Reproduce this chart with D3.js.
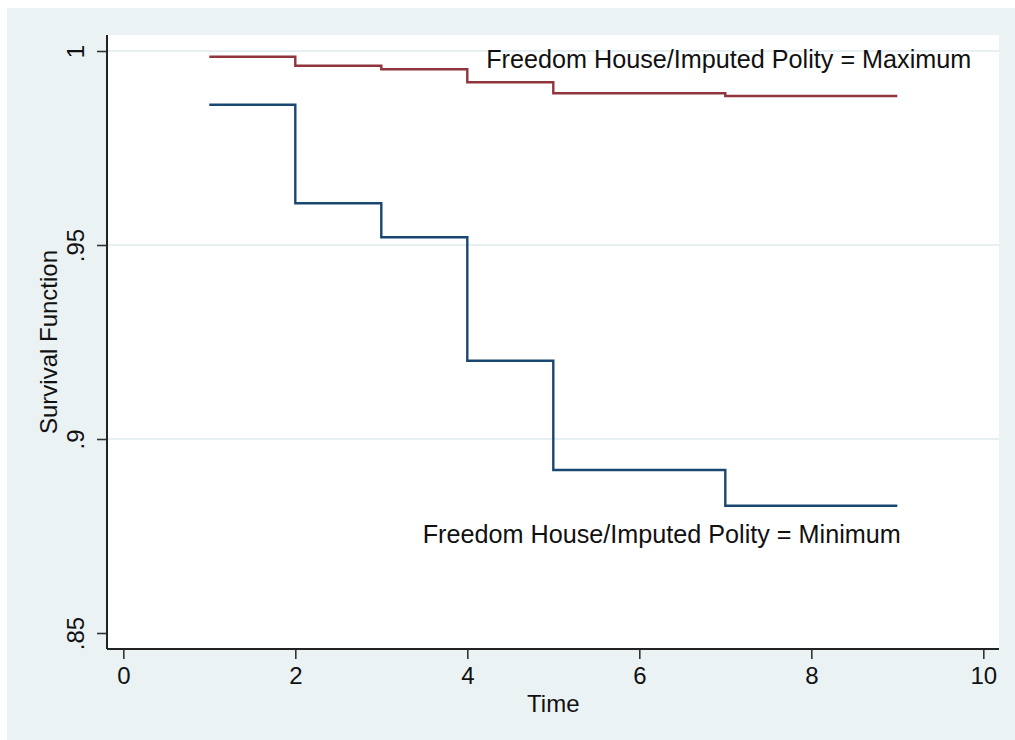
<!DOCTYPE html>
<html>
<head>
<meta charset="utf-8">
<script src="https://cdn.jsdelivr.net/npm/d3@7"></script>
<style>
  body { margin: 0; background: #ffffff; }
  text { font-family: "Liberation Sans", Arial, sans-serif; fill: #111111; }
</style>
</head>
<body>
<div id="survival_plot"></div>
<script>
// data
const times = [1, 2, 3, 4, 5, 7, 9];
const survMax = [0.99853, 0.99621, 0.99528, 0.99193, 0.98910, 0.98840, 0.98840];
const survMin = [0.98616, 0.96075, 0.95198, 0.92018, 0.89201, 0.88281, 0.88281];
const xTicks = [0, 2, 4, 6, 8, 10];
const yTicks = [0.85, 0.9, 0.95, 1];
const yTickLabels = [".85", ".9", ".95", "1"];
const gridTicks = [0.9, 0.95, 1];
const labelMax = "Freedom House/Imputed Polity = Maximum";
const labelMin = "Freedom House/Imputed Polity = Minimum";

// set the dimensions of the page and plot region
const W = 1015, H = 740;
const plot = {left: 107, right: 999, top: 35, bottom: 649};

const svg = d3.select("#survival_plot")
  .append("svg")
  .attr("width", W)
  .attr("height", H);

// outer graph region
svg.append("rect")
  .attr("x", 7).attr("y", 8)
  .attr("width", W - 7).attr("height", H - 8)
  .attr("fill", "#eaf2f3");

// inner plot region
svg.append("rect")
  .attr("x", plot.left).attr("y", plot.top)
  .attr("width", plot.right - plot.left).attr("height", plot.bottom - plot.top)
  .attr("fill", "#ffffff");

// scales
const x = d3.scaleLinear().domain([0, 10]).range([123.3, 983.3]);
const y = d3.scaleLinear().domain([0.85, 1]).range([633, 51]);

// grid lines
svg.append("g")
  .selectAll("line")
  .data(gridTicks)
  .join("line")
  .attr("x1", plot.left).attr("x2", plot.right)
  .attr("y1", d => y(d)).attr("y2", d => y(d))
  .attr("stroke", "#e6eff1")
  .attr("stroke-width", 2);

// Add Y axis
const yAxis = svg.append("g")
  .attr("transform", `translate(${plot.left},0)`)
  .call(d3.axisLeft(y).tickValues(yTicks).tickSize(10).tickPadding(14)
    .tickFormat((d, i) => yTickLabels[i]));
yAxis.select(".domain").remove();
yAxis.selectAll(".tick line").attr("stroke", "#333333").attr("stroke-width", 1.6);
yAxis.selectAll(".tick text")
  .attr("font-size", 24)
  .attr("text-anchor", "middle")
  .attr("x", null).attr("dy", null)
  .attr("transform", "translate(-23,0) rotate(-90)")
  .style("fill", "#111111");
yAxis.append("line")
  .attr("x1", 0).attr("x2", 0)
  .attr("y1", plot.top).attr("y2", plot.bottom)
  .attr("stroke", "#222222").attr("stroke-width", 2);

// Add X axis
const xAxis = svg.append("g")
  .attr("transform", `translate(0,${plot.bottom})`)
  .call(d3.axisBottom(x).tickValues(xTicks).tickSize(10).tickPadding(8));
xAxis.select(".domain").remove();
xAxis.selectAll(".tick line").attr("stroke", "#333333").attr("stroke-width", 1.6);
xAxis.selectAll(".tick text").attr("font-size", 24).style("fill", "#111111");
xAxis.append("line")
  .attr("x1", plot.left).attr("x2", plot.right)
  .attr("y1", 0).attr("y2", 0)
  .attr("stroke", "#222222").attr("stroke-width", 2);

// axis titles
svg.append("text")
  .attr("x", x(5)).attr("y", 712)
  .attr("text-anchor", "middle")
  .attr("font-size", 24)
  .text("Time");

svg.append("text")
  .attr("transform", `translate(57,${(plot.top + plot.bottom) / 2}) rotate(-90)`)
  .attr("text-anchor", "middle")
  .attr("font-size", 24)
  .text("Survival Function");

// step lines
const step = d3.line()
  .x(d => x(d[0]))
  .y(d => y(d[1]))
  .curve(d3.curveStepAfter);

svg.append("path")
  .datum(times.map((t, i) => [t, survMax[i]]))
  .attr("d", step)
  .attr("fill", "none")
  .attr("stroke", "#90353b")
  .attr("stroke-width", 2.4);

svg.append("path")
  .datum(times.map((t, i) => [t, survMin[i]]))
  .attr("d", step)
  .attr("fill", "none")
  .attr("stroke", "#1a476f")
  .attr("stroke-width", 2.4);

// line labels
svg.append("text")
  .attr("x", x(9.86)).attr("y", y(0.99794))
  .attr("dy", "0.35em")
  .attr("text-anchor", "end")
  .attr("font-size", 25.2)
  .text(labelMax);

svg.append("text")
  .attr("x", x(9.04)).attr("y", y(0.87552))
  .attr("dy", "0.35em")
  .attr("text-anchor", "end")
  .attr("font-size", 25.2)
  .text(labelMin);
</script>
</body>
</html>
